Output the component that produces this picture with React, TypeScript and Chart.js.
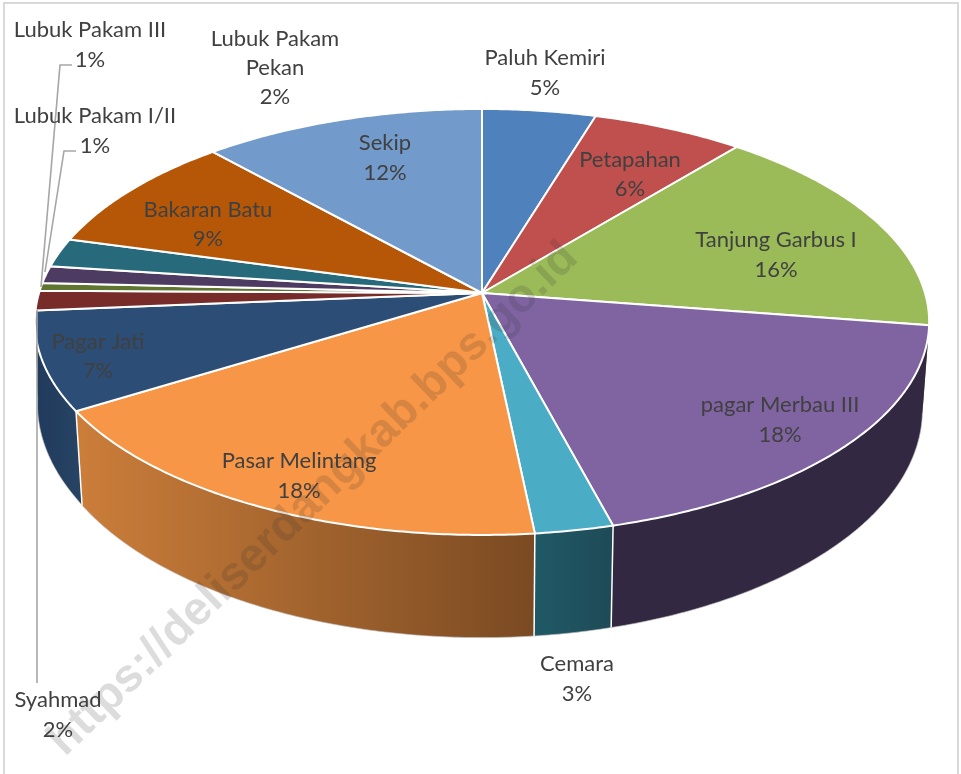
import React, { useEffect, useRef } from "react";
import { Chart, ArcElement, PieController, registerables } from "chart.js";

const categories = ["Paluh Kemiri", "Petapahan", "Tanjung Garbus I", "pagar Merbau III", "Cemara", "Pasar Melintang", "Pagar Jati", "Syahmad", "Lubuk Pakam III", "Lubuk Pakam I/II", "Lubuk Pakam Pekan", "Bakaran Batu", "Sekip"];
const shares = [4.7, 6.3, 16.5, 18.5, 2.5, 17.9, 7.5, 1.5, 0.6, 1.3, 2.2, 9.1, 11.7];
const percentLabels = ["5%", "6%", "16%", "18%", "3%", "18%", "7%", "2%", "1%", "1%", "2%", "9%", "12%"];
const topColors = ["#4f81bd", "#c0504d", "#9bbb59", "#8064a2", "#4bacc6", "#f79646", "#2c4d75", "#772c2a", "#5f7530", "#4d3b62", "#276a7c", "#b65708", "#729aca"];
const wallLeft = ["#2a4568", "#6b2d2b", "#566a32", "#332842", "#1f5a66", "#cc7e3a", "#1f3a5c", "#431918", "#36421b", "#2b2137", "#163c46", "#673105", "#405775"];
const wallRight = ["#2a4568", "#6b2d2b", "#566a32", "#332842", "#1f4a57", "#7a4a22", "#284464", "#431918", "#36421b", "#2b2137", "#163c46", "#673105", "#405775"];

// Label layout: text lines with their centre points on the page.
const labelLines: [string, number, number][][] = [
  [["Paluh Kemiri", 545, 58]],
  [["Petapahan", 630, 160]],
  [["Tanjung Garbus I", 776, 240]],
  [["pagar Merbau III", 780, 405]],
  [["Cemara", 577, 664]],
  [["Pasar Melintang", 299, 461]],
  [["Pagar Jati", 98, 342]],
  [["Syahmad", 58, 700]],
  [["Lubuk Pakam III", 90, 30]],
  [["Lubuk Pakam I/II", 95, 116]],
  [["Lubuk Pakam", 275, 39], ["Pekan", 275, 68]],
  [["Bakaran Batu", 208, 210]],
  [["Sekip", 385, 143]],
];
const percentPos: [number, number][] = [[545, 88], [630, 189], [776, 270], [780, 435], [577, 694], [299, 491], [98, 371], [58, 730], [90, 60], [95, 146], [275, 97], [208, 239], [385, 173]];
const leaders: [number, number][][] = [
  [[37, 310], [37, 683]],
  [[72, 65], [60, 65], [41, 287]],
  [[76, 151], [64, 151], [45, 272]],
];

// Tilted-disc projection.
const CX = 482, APEX_Y = 293, A = 443, B = 169.2, C = -0.136;
const WALL_SX = 0.985, WALL_AY = 1.07, WALL_BY = 65.2, WALL_LEFT_BULGE = 0.012;

const project = (angle: number): [number, number] => {
  const u = Math.cos(angle), v = Math.sin(angle);
  const w = 1 + C * v;
  return [CX + (A * u) / w, (B * v + APEX_Y) / w];
};
const projectLow = (angle: number): [number, number] => {
  const [x, y] = project(angle);
  const v = Math.sin(angle);
  const bulge = x < CX ? WALL_LEFT_BULGE * Math.max(0, 1 - 2 * Math.abs(v)) : 0;
  return [CX + (x - CX) * (WALL_SX + bulge), WALL_AY * y + WALL_BY];
};
const sampleAngles = (start: number, end: number) => {
  const n = Math.max(2, Math.ceil((end - start) / 0.01));
  const out: number[] = [];
  for (let i = 0; i <= n; i++) out.push(start + ((end - start) * i) / n);
  return out;
};

class TiltedArc extends ArcElement {
  static id = "tiltedArc";
  draw(ctx: CanvasRenderingContext2D) {
    const { startAngle, endAngle } = (this as any).getProps(["startAngle", "endAngle"]);
    const opts = (this as any).options;
    ctx.save();
    ctx.beginPath();
    ctx.moveTo(CX, APEX_Y);
    for (const a of sampleAngles(startAngle, endAngle)) {
      const [x, y] = project(a);
      ctx.lineTo(x, y);
    }
    ctx.closePath();
    ctx.fillStyle = opts.backgroundColor;
    ctx.fill();
    ctx.strokeStyle = "#ffffff";
    ctx.lineWidth = 2;
    ctx.lineJoin = "miter";
    ctx.stroke();
    ctx.restore();
  }
}

class TiltedPieController extends PieController {
  static id = "tiltedPie";
  static defaults = { ...PieController.defaults, dataElementType: "tiltedArc" };
}

Chart.register(...registerables, TiltedArc, TiltedPieController);

const wallsPlugin = {
  id: "walls",
  beforeDraw(chart: any) {
    const ctx = chart.ctx as CanvasRenderingContext2D;
    ctx.save();
    ctx.fillStyle = "#ffffff";
    ctx.fillRect(0, 0, chart.width, chart.height);
    ctx.strokeStyle = "#d9d9d9";
    ctx.lineWidth = 2;
    ctx.strokeRect(4, 3, 954, 800);
    ctx.restore();
  },
  beforeDatasetsDraw(chart: any) {
    const ctx = chart.ctx as CanvasRenderingContext2D;
    const arcs = chart.getDatasetMeta(0).data.map((arc: any, i: number) => ({
      i,
      start: arc.startAngle,
      end: arc.endAngle,
    }));
    const front = arcs
      .filter((a: any) => Math.sin((a.start + a.end) / 2) > -0.35 || Math.sin(a.start) > 0 || Math.sin(a.end) > 0)
      .sort((p: any, q: any) => Math.sin((p.start + p.end) / 2) - Math.sin((q.start + q.end) / 2));
    ctx.save();
    for (const a of front) {
      const angles = sampleAngles(a.start, a.end);
      const top = angles.map(project);
      const low = angles.map(projectLow).reverse();
      const xs = top.concat(low).map((p) => p[0]);
      const g = ctx.createLinearGradient(Math.min(...xs), 0, Math.max(...xs), 0);
      g.addColorStop(0, wallLeft[a.i]);
      g.addColorStop(1, wallRight[a.i]);
      ctx.beginPath();
      top.concat(low).forEach((p, k) => (k ? ctx.lineTo(p[0], p[1]) : ctx.moveTo(p[0], p[1])));
      ctx.closePath();
      ctx.fillStyle = g;
      ctx.fill();
      // silhouette hairline below
      ctx.beginPath();
      low.forEach((p, k) => (k ? ctx.lineTo(p[0], p[1]) : ctx.moveTo(p[0], p[1])));
      ctx.strokeStyle = "rgba(190,190,190,0.8)";
      ctx.lineWidth = 0.8;
      ctx.stroke();
    }
    // vertical seams between visible wall faces
    ctx.strokeStyle = "#ffffff";
    ctx.lineWidth = 1.5;
    for (const a of front) {
      if (Math.sin(a.end) > 0.3) {
        const t = project(a.end), l = projectLow(a.end);
        ctx.beginPath();
        ctx.moveTo(t[0], t[1]);
        ctx.lineTo(l[0], l[1]);
        ctx.stroke();
      }
    }
    ctx.restore();
  },
  afterDatasetsDraw(chart: any) {
    const ctx = chart.ctx as CanvasRenderingContext2D;
    ctx.save();
    // leader lines
    ctx.strokeStyle = "#a6a6a6";
    ctx.lineWidth = 1.6;
    for (const line of leaders) {
      ctx.beginPath();
      line.forEach((p, k) => (k ? ctx.lineTo(p[0], p[1]) : ctx.moveTo(p[0], p[1])));
      ctx.stroke();
    }
    // data labels
    ctx.fillStyle = "#404040";
    ctx.font = '22px Lato';
    ctx.textAlign = "center";
    ctx.textBaseline = "middle";
    labelLines.forEach((lines, i) => {
      for (const [text, x, y] of lines) ctx.fillText(text, x, y);
      ctx.fillText(percentLabels[i], percentPos[i][0], percentPos[i][1]);
    });
    // watermark
    ctx.translate(56, 748);
    ctx.rotate((-44 * Math.PI) / 180);
    ctx.font = 'bold 46.5px "Liberation Sans"';
    ctx.textAlign = "left";
    ctx.textBaseline = "middle";
    ctx.fillStyle = "rgba(50,50,50,0.17)";
    ctx.fillText("https://deliserdangkab.bps.go.id", 0, 0);
    ctx.restore();
  },
};

export default function App() {
  const ref = useRef<HTMLCanvasElement>(null);
  useEffect(() => {
    document.body.style.margin = "0";
    const chart = new Chart(ref.current!, {
      type: "tiltedPie" as any,
      data: {
        labels: categories,
        datasets: [{ data: shares, backgroundColor: topColors, borderWidth: 0 }],
      },
      options: {
        responsive: false,
        animation: false,
        plugins: { legend: { display: false }, tooltip: { enabled: false } },
      },
      plugins: [wallsPlugin],
    } as any);
    return () => chart.destroy();
  }, []);
  return <canvas ref={ref} width={961} height={774} style={{ display: "block" }} />;
}
